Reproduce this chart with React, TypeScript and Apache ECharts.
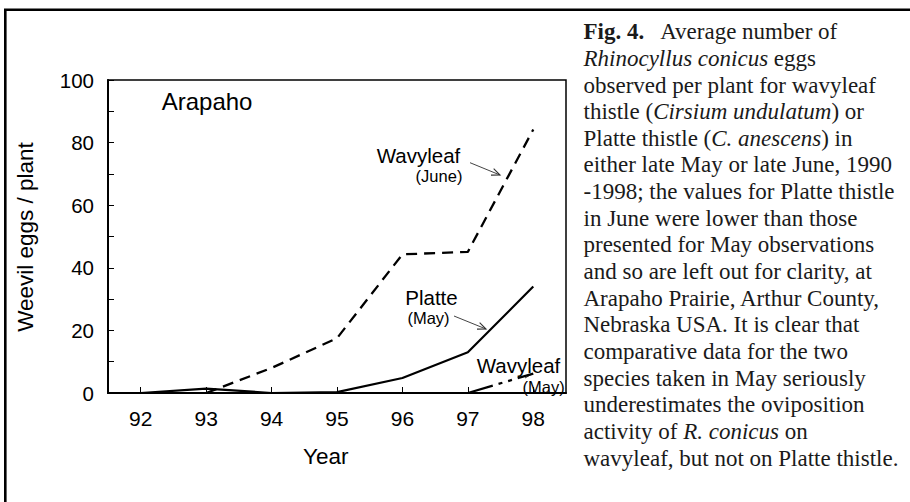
import React, { useEffect, useRef } from 'react';
import * as echarts from 'echarts';

// ---- data ----
const years = ['92', '93', '94', '95', '96', '97', '98'];
const wavyleafJune = [null, 0, 8, 17.5, 44.3, 45.1, 84.2];
const platteMay = [0, 1.4, 0, 0.3, 4.8, 13, 34];
const wavyleafMay = [null, null, null, null, null, 0, 6.2];
const yMin = 0;
const yMax = 100;
const yTickStep = 10;
const yLabelStep = 20;

type Seg = [string, string];
const captionLines: Seg[][] = [
  [['b', 'Fig. 4.'], ['n', '   Average number of']],
  [['i', 'Rhinocyllus conicus'], ['n', ' eggs']],
  [['n', 'observed per plant for wavyleaf']],
  [['n', 'thistle ('], ['i', 'Cirsium undulatum'], ['n', ') or']],
  [['n', 'Platte thistle ('], ['i', 'C. anescens'], ['n', ') in']],
  [['n', 'either late May or late June, 1990']],
  [['n', '-1998; the values for Platte thistle']],
  [['n', 'in June were lower than those']],
  [['n', 'presented for May observations']],
  [['n', 'and so are left out for clarity, at']],
  [['n', 'Arapaho Prairie, Arthur County,']],
  [['n', 'Nebraska USA. It is clear that']],
  [['n', 'comparative data for the two']],
  [['n', 'species taken in May seriously']],
  [['n', 'underestimates the oviposition']],
  [['n', 'activity of '], ['i', 'R. conicus'], ['n', ' on']],
  [['n', 'wavyleaf, but not on Platte thistle.']],
];

const SANS = '"Liberation Sans", Arial, Helvetica, sans-serif';
const SERIF = '"Liberation Serif", "Times New Roman", Times, serif';

function arrow(x1: number, y1: number, x2: number, y2: number) {
  const a = Math.atan2(y2 - y1, x2 - x1);
  const len = 9;
  const ang = 0.4;
  return {
    type: 'group',
    children: [
      { type: 'line', shape: { x1, y1, x2, y2 }, style: { stroke: '#444', lineWidth: 1 } },
      {
        type: 'polyline',
        shape: {
          points: [
            [x2 - len * Math.cos(a - ang), y2 - len * Math.sin(a - ang)],
            [x2, y2],
            [x2 - len * Math.cos(a + ang), y2 - len * Math.sin(a + ang)],
          ],
        },
        style: { stroke: '#333', lineWidth: 1.1, fill: 'none' },
      },
    ],
  };
}

function label(text: string, x: number, y: number, size: number, align = 'left') {
  return {
    type: 'text',
    x,
    y,
    style: { text, fontSize: size, fontFamily: SANS, fill: '#000', align, verticalAlign: 'middle' },
  };
}

export default function App() {
  const ref = useRef<HTMLDivElement>(null);
  useEffect(() => {
    if (!ref.current) return;
    const chart = echarts.init(ref.current, undefined, { renderer: 'svg' });

    const richBase = { fontSize: 23, fontFamily: SERIF, fill: '#1a1a1a' };
    const caption = captionLines.map((segs, i) => ({
      type: 'text',
      x: 583.5,
      y: 31.7 + i * 26.65,
      style: {
        text: segs.map(([k, t]) => `{${k}|${t}}`).join(''),
        fontSize: 23,
        fontFamily: SERIF,
        fill: '#1a1a1a',
        align: 'left',
        verticalAlign: 'middle',
        rich: {
          n: { ...richBase },
          i: { ...richBase, fontStyle: 'italic' },
          b: { ...richBase, fontWeight: 'bold' },
        },
      },
    }));

    chart.setOption({
      animation: false,
      backgroundColor: '#fff',
      grid: {
        left: 108,
        top: 80,
        right: 344,
        bottom: 109,
        show: true,
        borderColor: '#000',
        borderWidth: 1.5,
        containLabel: false,
      },
      xAxis: {
        type: 'category',
        data: years,
        boundaryGap: true,
        axisLine: { show: true, lineStyle: { color: '#000', width: 2 } },
        axisTick: { show: true, inside: true, alignWithLabel: true, length: 6, lineStyle: { color: '#000', width: 1 } },
        axisLabel: { interval: 0, margin: 15, fontSize: 21, fontFamily: SANS, color: '#000' },
        splitLine: { show: false },
      },
      yAxis: {
        type: 'value',
        min: yMin,
        max: yMax,
        interval: yTickStep,
        axisLine: { show: true, lineStyle: { color: '#000', width: 2 } },
        axisTick: { show: true, inside: true, length: 6, lineStyle: { color: '#000', width: 1 } },
        axisLabel: {
          margin: 14,
          fontSize: 20.5,
          fontFamily: SANS,
          color: '#000',
          formatter: (v: number) => (v % yLabelStep === 0 ? String(v) : ''),
        },
        splitLine: { show: false },
      },
      series: [
        {
          name: 'Wavyleaf (June)',
          type: 'line',
          data: wavyleafJune,
          symbol: 'none',
          connectNulls: false,
          lineStyle: { color: '#000', width: 2.3, type: [11, 7] },
        },
        {
          name: 'Platte (May)',
          type: 'line',
          data: platteMay,
          symbol: 'none',
          lineStyle: { color: '#000', width: 2.2, type: 'solid' },
        },
        {
          name: 'Wavyleaf (May)',
          type: 'line',
          data: wavyleafMay,
          symbol: 'none',
          connectNulls: false,
          lineStyle: { color: '#000', width: 2.3, type: [26, 6, 4, 6, 4, 6] },
        },
      ],
      graphic: [
        {
          type: 'rect',
          shape: { x: 5.3, y: 9.7, width: 2000, height: 2000 },
          style: { fill: 'none', stroke: '#000', lineWidth: 2.6 },
          silent: true,
        },
        label('Arapaho', 161.7, 101, 24),
        label('Wavyleaf', 376.7, 155, 20.5),
        label('(June)', 439, 176, 16.5, 'center'),
        arrow(470, 162.7, 500, 175),
        label('Platte', 431.5, 297, 20.5, 'center'),
        label('(May)', 428.5, 318, 16.5, 'center'),
        arrow(454, 316, 486, 329),
        label('Wavyleaf', 476.7, 365, 20.5),
        label('(May)', 522.5, 387, 16.5),
        { type: 'line', shape: { x1: 525, y1: 378, x2: 532, y2: 374 }, style: { stroke: '#333', lineWidth: 1 } },
        {
          type: 'text',
          x: 25,
          y: 237,
          rotation: Math.PI / 2,
          style: {
            text: 'Weevil eggs / plant',
            fontSize: 22.5,
            fontFamily: SANS,
            fill: '#000',
            align: 'center',
            verticalAlign: 'middle',
          },
        },
        {
          type: 'text',
          x: 303,
          y: 456,
          style: { text: 'Year', fontSize: 22.5, fontFamily: SANS, fill: '#000', align: 'left', verticalAlign: 'middle' },
        },
        ...caption,
      ],
    });
    return () => chart.dispose();
  }, []);

  return (
    <div
      ref={ref}
      style={{ position: 'absolute', left: 0, top: 0, width: 910, height: 502, background: '#fff' }}
    />
  );
}
